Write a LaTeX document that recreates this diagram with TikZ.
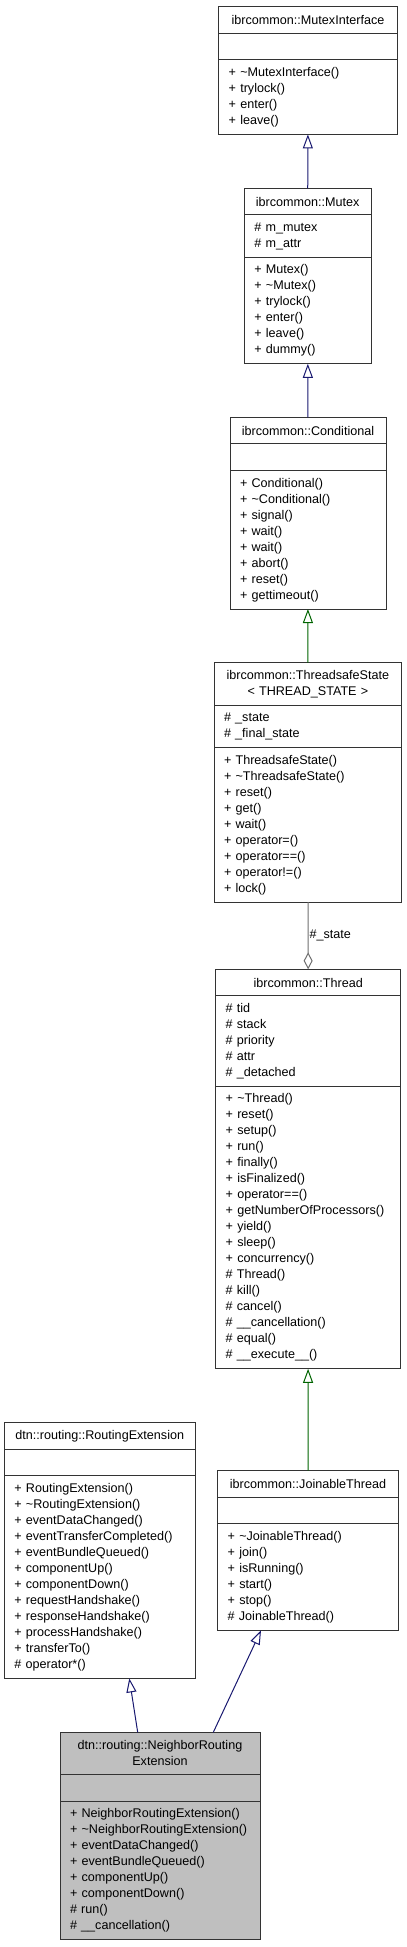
\documentclass[tikz,border=0pt]{standalone}
\usepackage{fontspec}
\setmainfont{Liberation Sans}
\usepackage{xcolor}
\usepackage{tikz}
\usetikzlibrary{positioning, arrows.meta}
\hyphenpenalty=10000
\definecolor{pubblue}{RGB}{25,25,112}
\definecolor{protgreen}{RGB}{0,100,0}
\definecolor{usegray}{RGB}{110,110,110}
\tikzstyle{ctitle} = [rectangle, draw=black!80, line width=0.9pt, fill=white, outer sep=0pt, inner xsep=3pt, inner ysep=0pt, align=center, minimum height=26.5pt]
\tikzstyle{cbody} = [rectangle, draw=black!80, line width=0.9pt, fill=white, outer sep=0pt, inner xsep=10pt, inner ysep=0pt, align=left]
\tikzstyle{cfocus} = [fill=black!25]
\tikzset{pub/.style={-{Triangle[open,length=14pt,width=10pt]},draw=pubblue,line width=1pt}}
\tikzset{prot/.style={-{Triangle[open,length=14pt,width=10pt]},draw=protgreen,line width=1pt}}
\tikzset{agg/.style={-{Diamond[open,length=17pt,width=9pt]},draw=usegray,line width=1pt}}

\begin{document}
\begin{tikzpicture}[x=1pt, y=-1pt, font=\fontsize{12.6}{16}\selectfont]
			\useasboundingbox (0,0) rectangle (407,1947);
			
			\node (mi) [ctitle, anchor=north, text width=172.6pt] at (308,6.7) {ibrcommon::MutexInterface};
			\node (mi_a) [cbody, below=0pt of mi, text width=158.6pt, minimum height=26.7pt] {};
			\node (mi_m) [cbody, below=0pt of mi_a, text width=158.6pt, minimum height=74.5pt]
			{+ \textasciitilde MutexInterface()\\+ trylock()\\+ enter()\\+ leave()};
			
			\node (mtx) [ctitle, anchor=north, text width=120.7pt] at (307.7,188.3) {ibrcommon::Mutex};
			\node (mtx_a) [cbody, below=0pt of mtx, text width=106.7pt, minimum height=42.5pt]
			{\# m\_mutex\\\# m\_attr};
			\node (mtx_m) [cbody, below=0pt of mtx_a, text width=106.7pt, minimum height=106.5pt]
			{+ Mutex()\\+ \textasciitilde Mutex()\\+ trylock()\\+ enter()\\+ leave()\\+ dummy()};
			
			\node (cond) [ctitle, anchor=north, text width=150pt] at (308,417.3) {ibrcommon::Conditional};
			\node (cond_a) [cbody, below=0pt of cond, text width=136pt, minimum height=26.7pt] {};
			\node (cond_m) [cbody, below=0pt of cond_a, text width=136pt, minimum height=138.5pt]
			{+ Conditional()\\+ \textasciitilde Conditional()\\+ signal()\\+ wait()\\+ wait()\\+ abort()\\+ reset()\\+ gettimeout()};
			
			\node (tss) [ctitle, anchor=north, text width=181.7pt, minimum height=42.3pt] at (307.85,662.7)
			{ibrcommon::ThreadsafeState\\< THREAD\_STATE >};
			\node (tss_a) [cbody, below=0pt of tss, text width=167.7pt, minimum height=42.5pt]
			{\# \_state\\\# \_final\_state};
			\node (tss_m) [cbody, below=0pt of tss_a, text width=167.7pt, minimum height=154.5pt]
			{+ ThreadsafeState()\\+ \textasciitilde ThreadsafeState()\\+ reset()\\+ get()\\+ wait()\\+ operator=()\\+ operator==()\\+ operator!=()\\+ lock()};
			
			\node (thr) [ctitle, anchor=north, text width=179pt] at (308.2,969.3) {ibrcommon::Thread};
			\node (thr_a) [cbody, below=0pt of thr, text width=165pt, minimum height=90.5pt]
			{\# tid\\\# stack\\\# priority\\\# attr\\\# \_detached};
			\node (thr_m) [cbody, below=0pt of thr_a, text width=165pt, minimum height=282.5pt]
			{+ \textasciitilde Thread()\\+ reset()\\+ setup()\\+ run()\\+ finally()\\+ isFinalized()\\+ operator==()\\+ getNumberOfProcessors()\\+ yield()\\+ sleep()\\+ concurrency()\\\# Thread()\\\# kill()\\\# cancel()\\\# \_\_cancellation()\\\# equal()\\\# \_\_execute\_\_()};
			
			\node (rext) [ctitle, anchor=north, text width=184.7pt] at (99.7,1422.7) {dtn::routing::RoutingExtension};
			\node (rext_a) [cbody, below=0pt of rext, text width=170.7pt, minimum height=26.7pt] {};
			\node (rext_m) [cbody, below=0pt of rext_a, text width=170.7pt, minimum height=202.5pt]
			{+ RoutingExtension()\\+ \textasciitilde RoutingExtension()\\+ eventDataChanged()\\+ eventTransferCompleted()\\+ eventBundleQueued()\\+ componentUp()\\+ componentDown()\\+ requestHandshake()\\+ responseHandshake()\\+ processHandshake()\\+ transferTo()\\\# operator*()};
			
			\node (jt) [ctitle, anchor=north, text width=174.6pt] at (308,1470.7) {ibrcommon::JoinableThread};
			\node (jt_a) [cbody, below=0pt of jt, text width=160.6pt, minimum height=26.7pt] {};
			\node (jt_m) [cbody, below=0pt of jt_a, text width=160.6pt, minimum height=106.5pt]
			{+ \textasciitilde JoinableThread()\\+ join()\\+ isRunning()\\+ start()\\+ stop()\\\# JoinableThread()};
			
			\node (nre) [ctitle, cfocus, anchor=north, text width=194pt, minimum height=42.3pt] at (160,1732.3)
			{dtn::routing::NeighborRouting\\Extension};
			\node (nre_a) [cbody, cfocus, below=0pt of nre, text width=180pt, minimum height=26.7pt] {};
			\node (nre_m) [cbody, cfocus, below=0pt of nre_a, text width=180pt, minimum height=138.5pt]
			{+ NeighborRoutingExtension()\\+ \textasciitilde NeighborRoutingExtension()\\+ eventDataChanged()\\+ eventBundleQueued()\\+ componentUp()\\+ componentDown()\\\# run()\\\# \_\_cancellation()};
			
			
			\draw [pub] (mtx) -- (mi_m);
			\draw [pub] (cond) -- (mtx_m);
			\draw [prot] (tss) -- (cond_m);
			\draw [agg] (tss_m) -- node [right, inner sep=1pt] {\#\_state} (thr);
			\draw [prot] (jt) -- (thr_m);
			\draw [pub] ([xshift=-22.3pt]nre.north) -- ([xshift=29.6pt]rext_m.south);
			\draw [pub] ([xshift=53.3pt]nre.north) -- ([xshift=-47pt]jt_m.south);
			
			
\end{tikzpicture}
\end{document}
